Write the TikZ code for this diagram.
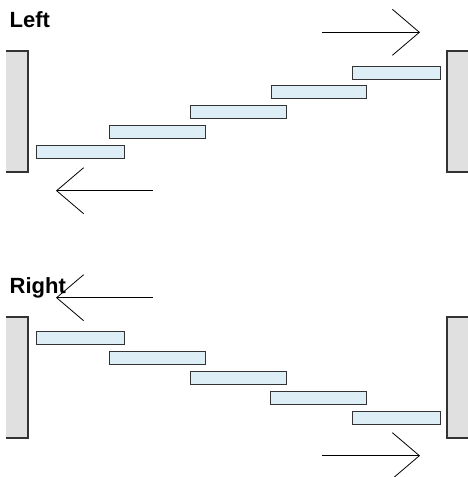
\documentclass[tikz,border=0pt]{standalone}
\usepackage{fontspec}
\setmainfont{Liberation Sans}
\usetikzlibrary{arrows.meta}
\definecolor{stepfill}{HTML}{DDEEF6}
\definecolor{wallfill}{HTML}{E0E0E0}
\definecolor{edge}{HTML}{333333}
\tikzset{
  stepbox/.style={draw=edge, fill=stepfill, line width=1.1pt, anchor=north west, inner sep=0pt, minimum height=13pt},
  wallfillst/.style={fill=wallfill, draw=none},
  walledge/.style={draw=edge, line width=1.1pt},
  arrowline/.style={line width=0.8pt, -{Straight Barb[length=27pt, width=46pt, line width=0.8pt]}},
  label/.style={font=\bfseries\fontsize{22}{24}\selectfont, anchor=base west, inner sep=0pt}
}
\begin{document}
\begin{tikzpicture}[x=1pt, y=-1pt]
\useasboundingbox (0,0) rectangle (467,477);
% ---------- Top panel ----------
\node[label] (lblL) at (9.5,27.7) {Left};
% walls
\fill[wallfillst] (6,51) rectangle (28,172);
\draw[walledge] (6,51) -- (28,51) -- (28,172) -- (6,172);
\fill[wallfillst] (447,51) rectangle (472,172);
\draw[walledge] (472,51) -- (447,51) -- (447,172) -- (472,172);
% steps
\node[stepbox, minimum width=88pt] (t1) at (36,145) {};
\node[stepbox, minimum width=96pt] (t2) at (109,125) {};
\node[stepbox, minimum width=96pt] (t3) at (190,105) {};
\node[stepbox, minimum width=95pt] (t4) at (271,85) {};
\node[stepbox, minimum width=88pt] (t5) at (352,66) {};
% arrows
\coordinate (tra) at (322,32.3);
\coordinate (trb) at (420,32.3);
\draw[arrowline] (tra) -- (trb);
\coordinate (tla) at (153,190.7);
\coordinate (tlb) at (56,190.7);
\draw[arrowline] (tla) -- (tlb);
% ---------- Bottom panel ----------
% walls
\fill[wallfillst] (6,317) rectangle (28,438);
\draw[walledge] (6,317) -- (28,317) -- (28,438) -- (6,438);
\fill[wallfillst] (447,317) rectangle (472,438);
\draw[walledge] (472,317) -- (447,317) -- (447,438) -- (472,438);
% steps
\node[stepbox, minimum width=88pt] (b1) at (36,331) {};
\node[stepbox, minimum width=96pt] (b2) at (109,351) {};
\node[stepbox, minimum width=96pt] (b3) at (190,371) {};
\node[stepbox, minimum width=96pt] (b4) at (270,391) {};
\node[stepbox, minimum width=88pt] (b5) at (352,411) {};
\node[label] (lblR) at (9.5,293.3) {Right};
% arrows
\coordinate (bla) at (153,297.7);
\coordinate (blb) at (56,297.7);
\draw[arrowline] (bla) -- (blb);
\coordinate (bra) at (322,455.7);
\coordinate (brb) at (420,455.7);
\draw[arrowline] (bra) -- (brb);
\end{tikzpicture}
\end{document}
